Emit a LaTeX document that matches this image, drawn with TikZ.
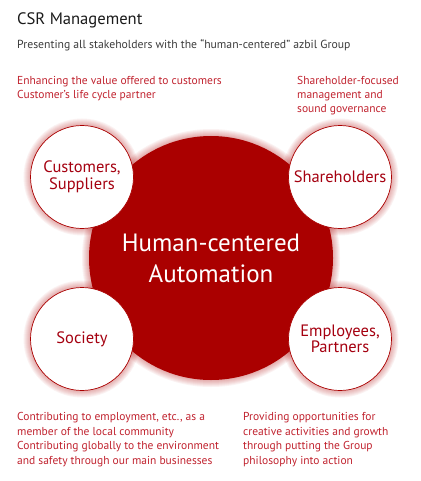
\documentclass[tikz,border=0pt]{standalone}
\usepackage{fontspec}
\setmainfont{PT Sans}
\usetikzlibrary{positioning, backgrounds}
\definecolor{csrred}{HTML}{AA0000}
\definecolor{textred}{HTML}{C0222E}
\definecolor{labelred}{HTML}{A50010}
\definecolor{headgray}{HTML}{1A1A1A}

\begin{document}
\begin{tikzpicture}[
    x=1pt, y=-1pt,
    hub/.style={
        circle,
        fill=csrred,
        minimum size=244pt,
        inner sep=0pt,
        align=center,
        text=white,
        font=\fontsize{25}{31}\selectfont
    },
    party/.style={
        circle,
        draw=csrred,
        fill=white,
        line width=0.7pt,
        minimum size=103pt,
        inner sep=0pt,
        align=center,
        text=labelred,
        font=\fontsize{16.5}{16.5}\selectfont
    },
    note/.style={
        anchor=base west,
        inner sep=0pt,
        align=left,
        text=textred,
        font=\fontsize{11.5}{14.4}\selectfont
    },
    glow/.style={draw=csrred, opacity=0.05}
]
\useasboundingbox (0,0) rectangle (420,481);

\node[anchor=base west, inner sep=0pt, text=headgray, font=\fontsize{16.6}{18}\selectfont] (title) at (17,25) {CSR Management};
\node[anchor=base west, inner sep=0pt, text=headgray!85, font=\fontsize{11.7}{14}\selectfont] (subtitle) at (17,49) {Presenting all stakeholders with the “human-centered” azbil Group};

\node[hub] (hub) at (211,258) {Human-centered\\Automation};
\node[party] (cust) at (82,177) {Customers,\\Suppliers};
\node[party] (share) at (340,177) {Shareholders};
\node[party] (society) at (82,339) {Society};
\node[party] (staff) at (340,339) {Employees,\\Partners};

\begin{scope}[on background layer]
\foreach \w in {2,4,...,14}
    \draw[glow, line width=\w pt] (hub.center) circle (122pt);
\foreach \n in {cust, share, society, staff}
    \foreach \w in {2,4,...,14}
        \draw[glow, line width=\w pt] (\n.center) circle (51.5pt);
\end{scope}

% notes: anchored at the baseline of their last line
\node[note] (custnote) at (17,99) {Enhancing the value offered to customers\\Customer’s life cycle partner};
\node[note] (sharenote) at (297,113) {Shareholder-focused\\management and\\sound governance};
\node[note] (societynote) at (17,464) {Contributing to employment, etc., as a\\member of the local community\\Contributing globally to the environment\\and safety through our main businesses};
\node[note] (staffnote) at (243,464) {Providing opportunities for\\creative activities and growth\\through putting the Group\\philosophy into action};

\end{tikzpicture}
\end{document}
